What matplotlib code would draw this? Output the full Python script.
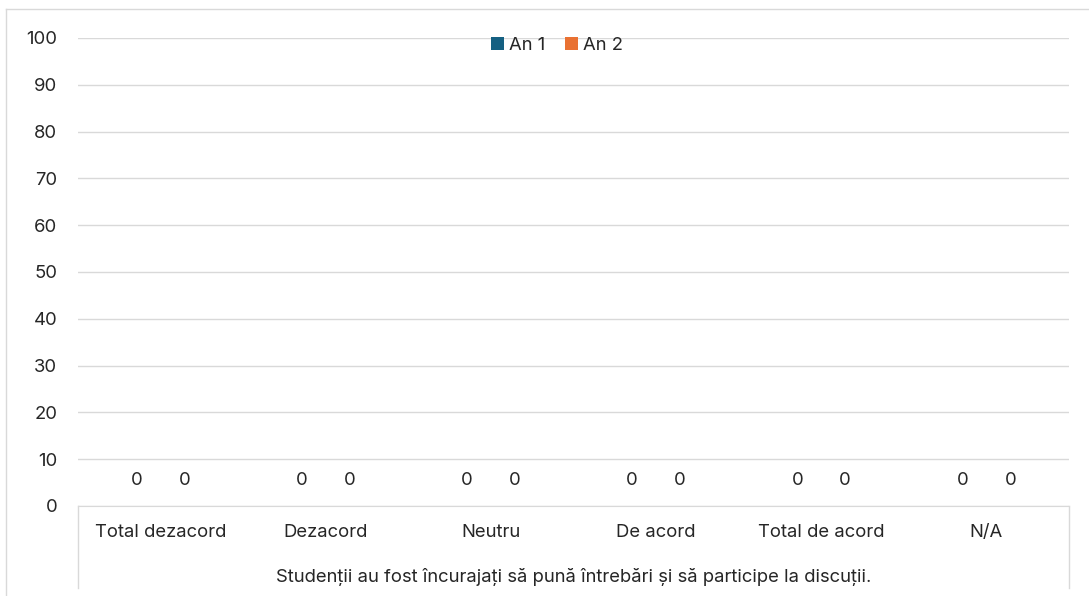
import numpy as np
import matplotlib.pyplot as plt

plt.rcParams['font.family'] = ['Inter', 'DejaVu Sans']

categories = ["Total dezacord", "Dezacord", "Neutru", "De acord", "Total de acord", "N/A"]
an1 = [0, 0, 0, 0, 0, 0]
an2 = [0, 0, 0, 0, 0, 0]
series_names = ["An 1", "An 2"]
group_label = "Studenții au fost încurajați să pună întrebări și să participe la discuții."
yticks = list(range(0, 101, 10))

fs = 13.3
txt = '#262626'

fig = plt.figure(figsize=(10.89, 5.96), dpi=100)
ax = fig.add_axes([78 / 1089, 1 - 506 / 596, (1069 - 78) / 1089, (506 - 38) / 596])

x = np.arange(len(categories))
w = 0.29
b1 = ax.bar(x - w / 2, an1, w, color='#156082', label=series_names[0])
b2 = ax.bar(x + w / 2, an2, w, color='#E97132', label=series_names[1])
ax.bar_label(b1, padding=12, fontsize=fs, color=txt)
ax.bar_label(b2, padding=12, fontsize=fs, color=txt)

ax.set_xlim(-0.5, len(categories) - 0.5)
ax.set_ylim(0, 100)
ax.set_yticks(yticks)
ax.yaxis.grid(True, color='#d9d9d9', linewidth=1)
ax.set_axisbelow(True)
for s in ['top', 'right', 'left']:
    ax.spines[s].set_visible(False)
ax.spines['bottom'].set_color('#d9d9d9')
ax.tick_params(axis='y', length=0, pad=15, labelsize=fs, labelcolor=txt)
ax.tick_params(axis='x', length=0, pad=13, labelsize=fs, labelcolor=txt)
ax.set_xticks(x)
ax.set_xticklabels(categories)

# multi-level category axis
for xa in (0, 1):
    ax.plot([xa, xa], [0, -0.175], transform=ax.transAxes, color='#d9d9d9',
            linewidth=1, clip_on=False)
ax.text(0.5, -0.152, group_label, transform=ax.transAxes, ha='center', va='center',
        fontsize=fs, color=txt)

fig.legend(loc='center', bbox_to_anchor=(557 / 1089, 1 - 45 / 596), ncol=2, frameon=False,
           fontsize=fs, handlelength=0.7, handleheight=0.7, handletextpad=0.3,
           columnspacing=1.05, labelcolor=txt)

# chart border
fig.add_artist(plt.Line2D([6 / 1089, 1], [1 - 9 / 596, 1 - 9 / 596], color='#d9d9d9', linewidth=1))
fig.add_artist(plt.Line2D([6 / 1089, 6 / 1089], [0, 1 - 9 / 596], color='#d9d9d9', linewidth=1))

fig.savefig('out.png', dpi=100)
